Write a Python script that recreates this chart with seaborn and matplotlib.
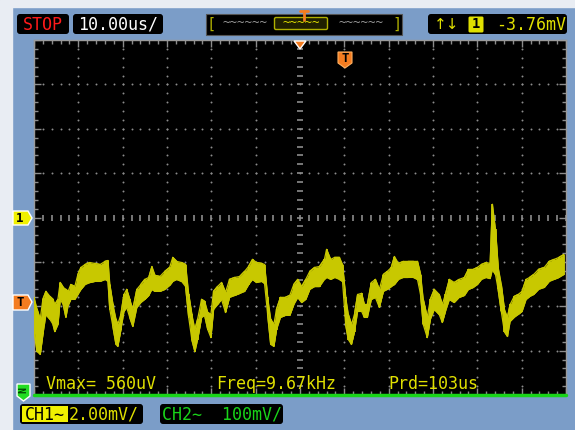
import numpy as np
import pandas as pd
import seaborn as sns
import matplotlib.pyplot as plt
from matplotlib.patches import FancyBboxPatch, Polygon, Rectangle

# CH1 trace envelope (time in us from trigger, volts in mV)
trace_t_us = [-60.0, -59.3, -58.6, -58.0, -57.3, -56.4, -55.7, -55.3, -54.6, -54.1,
              -53.4, -52.8, -52.3, -51.7, -50.8, -50.1, -49.4, -48.5, -47.4, -46.3,
              -45.1, -44.0, -43.3, -42.9, -42.2, -41.5, -41.1, -40.4, -39.7, -39.1,
              -38.4, -37.7, -36.8, -35.9, -35.0, -34.1, -33.4, -32.7, -31.6, -30.5,
              -29.4, -28.7, -27.8, -26.7, -25.8, -25.1, -24.4, -23.7, -23.1, -22.2,
              -21.5, -20.8, -20.1, -19.5, -18.6, -17.7, -16.8, -15.9, -14.7, -13.6,
              -12.5, -11.6, -10.7, -9.8, -8.6, -8.0, -7.3, -6.6, -5.9, -5.3,
              -4.4, -3.3, -2.3, -1.4, -0.5, 0.4, 1.3, 2.2, 3.3, 4.4,
              5.5, 6.0, 6.9, 7.8, 8.9, 9.6, 10.3, 10.9, 11.6, 12.3,
              13.0, 13.9, 14.5, 15.2, 16.1, 17.0, 17.9, 18.8, 19.7, 20.6,
              21.3, 22.2, 23.3, 24.4, 25.6, 26.5, 27.2, 27.8, 28.7, 29.4,
              30.3, 31.4, 32.1, 32.8, 33.7, 34.8, 35.9, 37.1, 38.0, 39.1,
              40.0, 40.9, 42.0, 42.9, 43.4, 44.1, 44.7, 45.4, 46.1, 46.8,
              47.4, 48.3, 49.2, 50.1, 51.0, 51.8, 52.7, 53.8, 55.1, 56.2,
              57.3, 58.4, 59.5]
trace_hi_mv = [-3.60, -4.14, -4.59, -3.69, -3.33, -3.56, -3.69, -3.92, -3.69, -2.93,
               -3.15, -3.24, -3.33, -3.02, -3.11, -2.57, -2.25, -2.12, -2.03, -2.07,
               -2.12, -1.98, -1.94, -3.02, -3.92, -4.59, -4.82, -4.37, -3.47, -3.24,
               -3.69, -4.14, -3.24, -3.02, -2.79, -2.70, -2.21, -2.61, -2.66, -2.43,
               -2.25, -1.80, -1.98, -2.03, -2.12, -3.47, -4.37, -5.05, -4.59, -3.69,
               -3.78, -4.28, -4.37, -3.33, -3.11, -2.93, -3.38, -2.79, -2.70, -2.66,
               -2.43, -2.21, -1.89, -2.03, -2.07, -2.12, -3.60, -4.59, -4.82, -4.14,
               -3.60, -3.60, -3.51, -3.02, -2.79, -3.11, -2.79, -2.43, -2.25, -2.21,
               -1.89, -1.44, -1.89, -1.80, -1.80, -2.12, -3.60, -4.37, -4.82, -4.37,
               -3.47, -3.42, -3.92, -3.92, -2.93, -2.79, -3.24, -2.57, -2.43, -2.25,
               -1.76, -2.07, -1.98, -1.98, -1.98, -1.98, -2.57, -3.69, -4.50, -3.69,
               -3.24, -3.47, -3.92, -3.47, -2.79, -2.93, -2.79, -2.70, -2.34, -2.34,
               -2.25, -2.12, -2.03, -2.07, 0.59, -0.54, -2.25, -3.02, -4.14, -4.50,
               -3.92, -3.56, -3.47, -3.33, -2.79, -2.70, -2.57, -2.34, -2.25, -1.98,
               -1.89, -1.80, -1.67]
trace_lo_mv = [-5.05, -6.04, -6.17, -5.27, -4.37, -4.59, -4.82, -5.14, -4.82, -3.69,
               -3.92, -4.50, -3.96, -3.69, -3.69, -3.47, -3.24, -3.02, -2.93, -2.88,
               -2.88, -2.79, -2.88, -4.14, -4.91, -5.72, -5.81, -5.05, -4.23, -4.05,
               -4.50, -4.91, -4.05, -3.83, -3.69, -3.51, -3.24, -3.33, -3.33, -3.24,
               -3.06, -2.88, -2.79, -2.88, -3.11, -4.50, -5.50, -6.04, -5.50, -4.50,
               -4.41, -5.05, -5.41, -4.14, -3.92, -3.69, -4.28, -3.60, -3.51, -3.42,
               -3.33, -3.02, -2.79, -2.93, -2.88, -2.97, -4.37, -5.72, -5.81, -5.05,
               -4.50, -4.41, -4.41, -3.92, -3.60, -3.83, -3.69, -3.24, -3.11, -3.11,
               -2.79, -2.70, -2.79, -2.70, -2.79, -2.88, -4.82, -5.50, -5.72, -5.14,
               -4.23, -4.23, -4.50, -4.50, -3.69, -3.60, -4.05, -3.33, -3.24, -3.11,
               -3.02, -2.79, -2.70, -2.70, -2.70, -2.79, -3.47, -4.82, -5.41, -4.59,
               -4.14, -4.37, -4.73, -4.23, -3.69, -3.83, -3.60, -3.51, -3.24, -3.15,
               -3.02, -2.79, -2.70, -2.75, -2.34, -2.57, -3.24, -4.23, -5.14, -5.36,
               -4.68, -4.50, -4.37, -4.23, -3.69, -3.56, -3.47, -3.24, -3.15, -2.88,
               -2.79, -2.70, -2.57]

# CH2 sits flat on the bottom of the screen
ch2_t_us = [-60.0, 60.0]
ch2_mv = [-8.0, -8.0]

# readouts
timebase_label = "10.00us/"
trigger_level = "-3.76mV"
measure_labels = ["Vmax= 560uV", "Freq=9.67kHz", "Prd=103us"]
ch1_scale = "2.00mV/"
ch2_label = "CH2\u223c  100mV/"

BLUE = "#7b9dc8"
LIGHT = "#e9edf3"
TRACE = "#c8c800"
TXT_Y = "#e0e000"
GREEN = "#19d419"
ORANGE = "#f47c20"
GRID = "#8c8c8c"
MONO = "DejaVu Sans Mono"

sns.set_theme(style="dark")
plt.rcParams["font.family"] = ["DejaVu Sans Mono", "DejaVu Sans"]

fig = plt.figure(figsize=(5.75, 4.3), dpi=100, facecolor=BLUE)

# background strips
bg = fig.add_axes([0, 0, 1, 1], zorder=0)
bg.set_xlim(0, 575)
bg.set_ylim(430, 0)
bg.axis("off")
bg.add_patch(Rectangle((0, 0), 575, 430, color=BLUE))
bg.add_patch(Rectangle((0, 0), 575, 7, color=LIGHT))
bg.add_patch(Rectangle((0, 0), 12, 430, color=LIGHT))

# --- scope screen ---
ax = fig.add_axes([34 / 575, 35 / 430, 532 / 575, 355 / 430], zorder=1)
ax.set_facecolor("black")
ax.set_xlim(-60, 60)
ax.set_ylim(-8, 8)

# graticule dots
sub_v = np.arange(-8, 8.01, 0.4)
sub_t = np.arange(-60, 60.01, 2)
for gx in range(-50, 51, 10):
    if gx == 0:
        ax.plot(np.full_like(sub_v, 0), sub_v, ls="none", marker="_", ms=4,
                mew=1.2, color=GRID)
    else:
        ax.plot(np.full_like(sub_v, gx), sub_v, ls="none", marker="o", ms=1.4,
                mew=0, color=GRID)
for gy in range(-6, 7, 2):
    if gy == 0:
        ax.plot(sub_t, np.full_like(sub_t, 0), ls="none", marker="|", ms=5,
                mew=1.2, color=GRID)
    else:
        ax.plot(sub_t, np.full_like(sub_t, gy), ls="none", marker="o", ms=1.4,
                mew=0, color=GRID)

ax.set_xticks(range(-60, 61, 10))
ax.set_xticks(sub_t, minor=True)
ax.set_yticks(range(-8, 9, 2))
ax.set_yticks(sub_v, minor=True)
ax.tick_params(which="both", direction="in", top=True, bottom=True, left=True,
               right=True, labelbottom=False, labelleft=False, color=GRID)
ax.tick_params(which="major", length=5, width=1)
ax.tick_params(which="minor", length=3, width=1)
ax.grid(False)
for s in ax.spines.values():
    s.set_color("#9a9a9a")
    s.set_linewidth(1)

# CH1 trace: filled envelope, edges, and a zigzag between the read extremes
df = pd.DataFrame({"t": trace_t_us * 2,
                   "mv": trace_hi_mv + trace_lo_mv,
                   "edge": ["hi"] * len(trace_t_us) + ["lo"] * len(trace_t_us)})
ax.fill_between(trace_t_us, trace_lo_mv, trace_hi_mv, color=TRACE, lw=0, zorder=3)
sns.lineplot(data=df, x="t", y="mv", hue="edge", palette=[TRACE, TRACE],
             lw=0.9, legend=False, ax=ax, zorder=3, estimator=None, sort=False)
ax.vlines(trace_t_us, trace_lo_mv, trace_hi_mv, color=TRACE, lw=1.2, zorder=3)
zz_t, zz_v = [], []
for i, (t, hi, lo) in enumerate(zip(trace_t_us, trace_hi_mv, trace_lo_mv)):
    zz_t += [t, t]
    zz_v += [hi, lo] if i % 2 == 0 else [lo, hi]
ax.plot(zz_t, zz_v, color=TRACE, lw=1.0, zorder=3)

# CH2 trace
sns.lineplot(x=ch2_t_us, y=ch2_mv, color=GREEN, lw=2.5, ax=ax, zorder=4)
ax.lines[-1].set_clip_on(False)
ax.set_xlabel("")
ax.set_ylabel("")

# measurement readouts
for xp, lab in zip([-57.3, -18.9, 20.0], measure_labels):
    ax.text(xp, -7.5, lab, color=TXT_Y, fontsize=12, family=MONO,
            ha="left", va="center", zorder=5)

# --- overlay in pixel space ---
ov = fig.add_axes([0, 0, 1, 1], zorder=2)
ov.set_xlim(0, 575)
ov.set_ylim(430, 0)
ov.axis("off")
ov.patch.set_alpha(0)


def box(x0, y0, x1, y1, fc="black", ec="none", lw=0, pad=3):
    ov.add_patch(FancyBboxPatch((x0 + pad, y0 + pad), x1 - x0 - 2 * pad,
                                y1 - y0 - 2 * pad,
                                boxstyle=f"round,pad={pad}", fc=fc, ec=ec, lw=lw))


# top bar
box(17, 14, 69, 34)
ov.text(43, 24.5, "STOP", color="#ff1a1a", fontsize=12, family=MONO,
        ha="center", va="center")
box(73, 14, 163, 34)
ov.text(118, 24.5, timebase_label, color="white", fontsize=12, family=MONO,
        ha="center", va="center")

# memory bar
ov.add_patch(Rectangle((206, 14), 196, 21, fc="black", ec="#555555", lw=0.8))
ov.text(211, 24.5, "[", color="#b0b000", fontsize=11, family=MONO,
        ha="center", va="center")
ov.text(397, 24.5, "]", color="#b0b000", fontsize=11, family=MONO,
        ha="center", va="center")
ov.text(245, 23, "~~~~~~", color="#9a9a9a", fontsize=9, family=MONO,
        ha="center", va="center")
ov.text(361, 23, "~~~~~~", color="#9a9a9a", fontsize=9, family=MONO,
        ha="center", va="center")
ov.add_patch(FancyBboxPatch((276, 19), 50, 9, boxstyle="round,pad=1.5",
                            fc="#202000", ec="#b0b000", lw=1))
ov.text(301, 23, "~~~~~", color=TXT_Y, fontsize=9, family=MONO,
        ha="center", va="center")
ov.plot([300, 308], [11, 11], color=ORANGE, lw=2)
ov.plot([304, 304], [11, 20], color=ORANGE, lw=2)

# trigger readout
box(428, 14, 567, 34)
ov.text(447, 24.5, "\u2191\u2193", color=TXT_Y, fontsize=11, family="DejaVu Sans",
        ha="center", va="center")
ov.add_patch(FancyBboxPatch((470, 18), 12, 13, boxstyle="round,pad=1.5",
                            fc=TXT_Y, ec="none"))
ov.text(476, 24.5, "1", color="black", fontsize=10, family=MONO,
        weight="bold", ha="center", va="center")
ov.text(531, 24.5, trigger_level, color=TXT_Y, fontsize=12, family=MONO,
        ha="center", va="center")

# trigger position markers on screen
ov.add_patch(Polygon([[294, 41], [306, 41], [300, 49]], closed=True, fc=ORANGE))
ov.add_patch(Polygon([[338, 52], [352, 52], [352, 63], [345, 68], [338, 63]],
                     closed=True, fc=ORANGE, ec="#ffb060", lw=0.8))
ov.text(345, 58.5, "T", color="black", fontsize=9, family=MONO, weight="bold",
        ha="center", va="center")

# left side tags
ov.add_patch(Polygon([[13, 211], [28, 211], [32, 218], [28, 225], [13, 225]],
                     closed=True, fc="#f0f000"))
ov.text(20, 218, "1", color="black", fontsize=9, family=MONO, weight="bold",
        ha="center", va="center")
ov.add_patch(Polygon([[13, 295], [28, 295], [32, 302], [28, 310], [13, 310]],
                     closed=True, fc=ORANGE))
ov.text(20, 302.5, "T", color="black", fontsize=9, family=MONO, weight="bold",
        ha="center", va="center")
ov.add_patch(Polygon([[17, 384], [30, 384], [30, 396], [23.5, 401], [17, 396]],
                     closed=True, fc="#22dd22"))
ov.text(23.5, 390.5, "N", color="#004400", fontsize=7, family=MONO,
        weight="bold", rotation=90, ha="center", va="center")

# channel scale boxes
box(20, 404, 143, 424)
ov.add_patch(Rectangle((22, 406), 46, 16, fc="#f0f000", ec="none"))
ov.text(45, 414.5, "CH1\u223c", color="black", fontsize=12, family=MONO,
        ha="center", va="center")
ov.text(104, 414.5, ch1_scale, color=TXT_Y, fontsize=12, family=MONO,
        ha="center", va="center")
box(160, 404, 283, 424)
ov.text(222, 414.5, ch2_label, color=GREEN, fontsize=12, family=MONO,
        ha="center", va="center")

fig.savefig("out.png", dpi=100, facecolor=BLUE)
